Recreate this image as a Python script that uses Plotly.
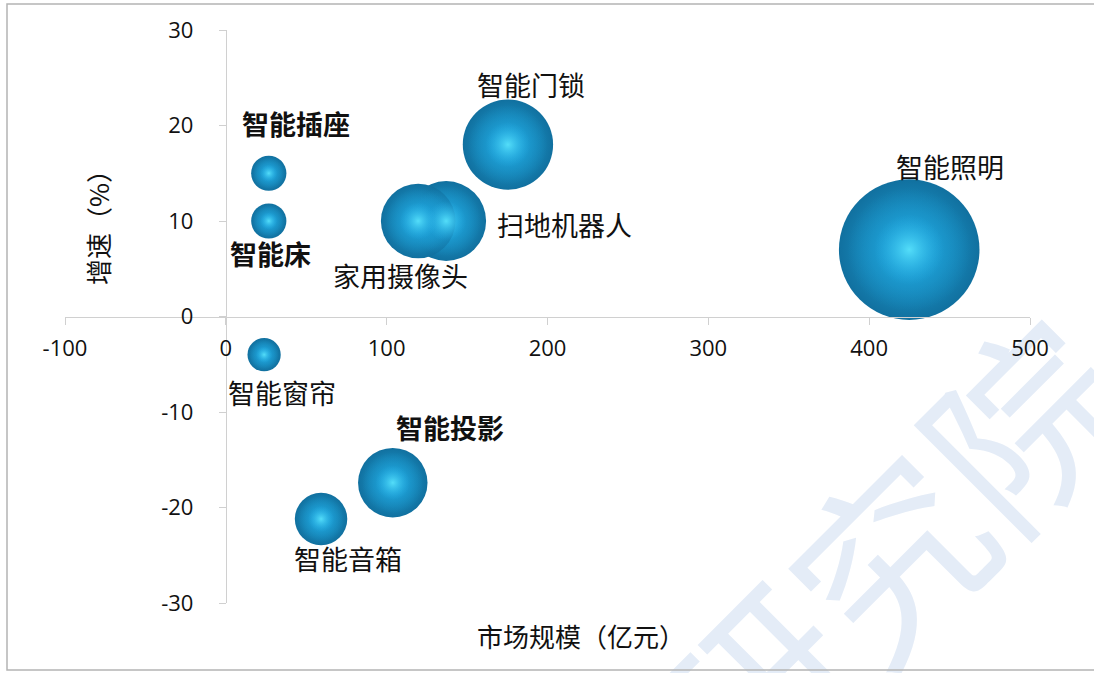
import base64
import plotly.graph_objects as go

# ---- data ----
names = ["智能插座", "智能床", "扫地机器人", "家用摄像头", "智能门锁",
         "智能照明", "智能窗帘", "智能投影", "智能音箱"]
market_size = [26.7, 26.7, 137, 119.6, 175.4, 424.9, 23.8, 103.8, 59.2]   # 亿元
growth = [15.0, 10.0, 10.0, 10.0, 18.0, 7.0, -4.0, -17.4, -21.2]            # %
bubble_size = market_size
x_ticks = [-100, 0, 100, 200, 300, 400, 500]
y_ticks = [-30, -20, -10, 0, 10, 20, 30]

# label styling (pixel offsets from bubble centre, bold flag)
label_dx = [27, 2, 118, -18, 23, 41, 18, 57, 27]
label_dy = [50, -32, -3, -54, 60, 83, -38, 55, -40]
label_bold = [True, True, False, False, False, False, False, True, False]

CJK = "Noto Sans CJK SC"
W, H = 1094, 673
ML, MR, MT, MB = 65, 64, 30, 70
pw, ph = W - ML - MR, H - MT - MB

def px2paper(xp, yp):
    return (xp - ML) / pw, (H - MB - yp) / ph

fig = go.Figure()

base_ref = 2.0 / 46.5
# base sphere
fig.add_trace(go.Scatter(
    x=market_size, y=growth, mode="markers", hoverinfo="skip",
    marker=dict(size=bubble_size, sizemode="area", sizeref=base_ref,
                color="#11709f", opacity=1,
                gradient=dict(type="radial", color="#20aae0"),
                line=dict(width=0)),
    showlegend=False))
# mid body
fig.add_trace(go.Scatter(
    x=market_size, y=growth, mode="markers", hoverinfo="skip",
    marker=dict(size=bubble_size, sizemode="area", sizeref=base_ref * 1.3,
                color="rgba(28,158,214,0)", opacity=1,
                gradient=dict(type="radial", color="rgba(30,164,220,0.95)"),
                line=dict(width=0)),
    showlegend=False))
# highlight
fig.add_trace(go.Scatter(
    x=market_size, y=growth, mode="markers", hoverinfo="skip",
    marker=dict(size=bubble_size, sizemode="area", sizeref=base_ref * 4.0,
                color="rgba(40,175,230,0)", opacity=1,
                gradient=dict(type="radial", color="rgba(90,228,252,0.9)"),
                line=dict(width=0)),
    showlegend=False))

# watermark as a background image (below axes labels)
svg = (f'<svg xmlns="http://www.w3.org/2000/svg" width="{W}" height="{H}" viewBox="0 0 {W} {H}">'
       f'<text x="885" y="552" transform="rotate(-45 885 552)" text-anchor="middle" '
       f'dominant-baseline="central" font-family="{CJK}" font-size="190" fill="#e4ecf7">研究院</text>'
       f'</svg>')
svg_uri = "data:image/svg+xml;base64," + base64.b64encode(svg.encode("utf-8")).decode("ascii")
ix, iy = px2paper(0, 0)

annotations = []
for n, xv, yv, dx, dy, b in zip(names, market_size, growth, label_dx, label_dy, label_bold):
    annotations.append(dict(
        text=n, x=xv, y=yv, xref="x", yref="y", showarrow=False,
        xshift=dx, yshift=dy, xanchor="center", yanchor="middle",
        font=dict(family=CJK, size=27, color="#111111",
                  weight="bold" if b else "normal")))

# axis titles
tx, ty = px2paper(581, 635)
annotations.append(dict(text="市场规模（亿元）", x=tx, y=ty, xref="paper", yref="paper",
                        showarrow=False, xanchor="center", yanchor="middle",
                        font=dict(family=CJK, size=26, color="#111111")))
tx, ty = px2paper(97, 221)
annotations.append(dict(text="增速（%）", x=tx, y=ty, xref="paper", yref="paper",
                        showarrow=False, xanchor="center", yanchor="middle", textangle=-90,
                        font=dict(family=CJK, size=26, color="#111111")))

bx0, by0 = px2paper(7, 670)
bx1, by1 = px2paper(1100, 4)

fig.update_layout(
    width=W, height=H,
    margin=dict(l=ML, r=MR, t=MT, b=MB),
    paper_bgcolor="white", plot_bgcolor="rgba(0,0,0,0)",
    showlegend=False,
    annotations=annotations,
    images=[dict(source=svg_uri, xref="paper", yref="paper", x=ix, y=iy,
                 sizex=W / pw, sizey=H / ph, xanchor="left", yanchor="top",
                 sizing="stretch", layer="below")],
    shapes=[dict(type="rect", xref="paper", yref="paper",
                 x0=bx0, y0=by0, x1=bx1, y1=by1,
                 line=dict(color="#b4b4b4", width=1.5), layer="below")],
    xaxis=dict(range=[-100, 500], tickvals=x_ticks, ticktext=[str(v) for v in x_ticks],
               showgrid=False, zeroline=False,
               showline=True, linecolor="#d0d0d0", linewidth=1,
               ticks="outside", ticklen=7, tickcolor="#d0d0d0",
               anchor="free", position=0.5, ticklabelstandoff=5,
               tickfont=dict(family="Open Sans", size=22, color="#111111")),
    yaxis=dict(range=[-30, 30], tickvals=y_ticks, ticktext=[str(v) for v in y_ticks],
               showgrid=False, zeroline=False,
               showline=True, linecolor="#d0d0d0", linewidth=1,
               ticks="outside", ticklen=7, tickcolor="#d0d0d0",
               anchor="free", position=1/6, ticklabelstandoff=21,
               tickfont=dict(family="Open Sans", size=22, color="#111111")),
)

fig.write_html("out.html", post_script="document.body.style.margin='0';",
               config={"displayModeBar": False})
